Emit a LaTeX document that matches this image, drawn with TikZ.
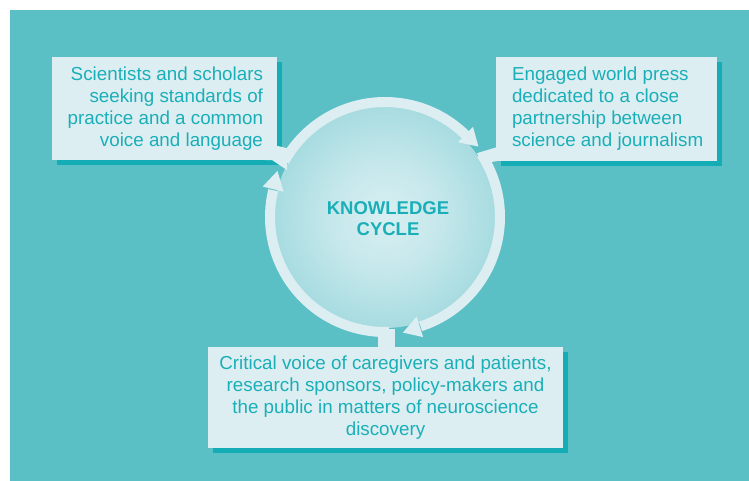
\documentclass[tikz,border=0pt]{standalone}
\usepackage{fontspec}
\setmainfont{Liberation Sans}
\usetikzlibrary{calc,shadows}

\definecolor{bgteal}{HTML}{5BBFC6}
\definecolor{boxfill}{HTML}{DCEEF1}
\definecolor{inkteal}{HTML}{1AAFB8}
\definecolor{shadowteal}{HTML}{14ADB5}
\definecolor{glowin}{HTML}{D8EFF2}
\definecolor{glowout}{HTML}{60C0C7}

% soft glow filling the cycle
\pgfdeclareradialshading{glow}{\pgfpoint{0bp}{0bp}}{%
  color(0bp)=(glowin); color(12bp)=(glowin!85!glowout);
  color(32bp)=(glowin!45!glowout); color(50bp)=(glowout)}

\begin{document}
\begin{tikzpicture}[x=1pt,y=1pt,
  panel/.style={fill=boxfill, draw=none, inner sep=0pt,
    drop shadow={shadow xshift=5pt, shadow yshift=-5pt, fill=shadowteal, opacity=1}},
  txt/.style={inner sep=0pt, text=inkteal,
    font=\fontsize{18.8}{22}\selectfont},
  heading/.style={inner sep=0pt, text=inkteal, align=center,
    font=\fontsize{18.5}{21}\selectfont\bfseries},
  ring/.style={draw=boxfill, line width=10pt},
  bridge/.style={fill=boxfill, draw=none}]

\useasboundingbox (0,0) rectangle (749,481);
\fill[bgteal] (10,0) rectangle (749,471);

% the three panels
\node[panel, minimum width=225pt, minimum height=103pt] (b1) at (164.5,372.5) {};
\node[panel, minimum width=221pt, minimum height=104pt] (b2) at (606.5,372) {};
\node[panel, minimum width=355pt, minimum height=101pt] (b3) at (385.5,83.5) {};

% centre of the cycle
\coordinate (c) at (385,264);
\path[shading=glow] (c) circle[radius=111];

% arcs of the cycle, running clockwise
\draw[ring] ($(c)+(151:115)$) arc[start angle=151, end angle=45, radius=115];
\draw[ring] ($(c)+(33:115)$) arc[start angle=33, end angle=-72, radius=115];
\draw[ring] ($(c)+(-88:115)$) arc[start angle=-88, end angle=-193.5, radius=115];

% arrowheads: base angle, tip angle
\foreach \base/\tip in {45.7/37, -72.4/-81.2, 166/156.8}
  \fill[boxfill] ($(c)+(\base:104.5)$) -- ($(c)+(\tip:117)$)
    -- ($(c)+(\base:126)$) -- cycle;

% joints between panels and the ring
\fill[bridge] ($(b1.south east)+(-12,17)$) -- ($(b1.south east)+(10,12)$)
  -- ($(b1.south east)+(10,-10)$) -- ($(b1.south east)+(-5,0)$)
  -- ($(b1.south east)+(-12,0)$) -- cycle;
\fill[bridge] ($(b2.south west)+(-19,8)$) -- ($(b2.south west)+(1,14)$)
  -- ($(b2.south west)+(1,0)$) -- ($(b2.south west)+(-13,-2)$) -- cycle;
\fill[bridge] ($(b3.north)+(-7.5,-1)$) rectangle ($(b3.north)+(9.5,18)$);

% texts
\node[heading] (k) at (388,262) {KNOWLEDGE\\CYCLE};
\node[txt, align=right, anchor=east] (t1) at ($(b1.east)+(-14,0)$)
  {Scientists and scholars\\seeking standards of\\practice and a common\\voice and language};
\node[txt, align=left, anchor=west] (t2) at ($(b2.west)+(16,0)$)
  {Engaged world press\\dedicated to a close\\partnership between\\science and journalism};
\node[txt, align=center] (t3) at (b3.center)
  {Critical voice of caregivers and patients,\\research sponsors, policy-makers and\\the public in matters of neuroscience\\discovery};
\end{tikzpicture}
\end{document}
